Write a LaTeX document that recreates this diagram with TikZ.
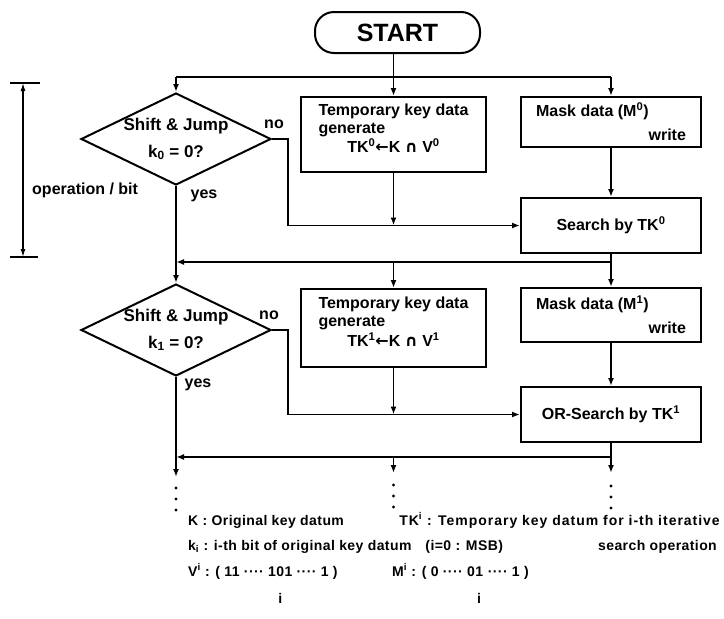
\documentclass[tikz,border=0pt]{standalone}
\usepackage{fontspec}
\setmainfont{Liberation Sans}
\newfontfamily\legfont[LetterSpace=3]{Liberation Sans}
\newfontfamily\legwidefont[LetterSpace=7]{Liberation Sans}
\newfontfamily\symfont{DejaVu Sans}
\newcommand{\larr}{{\symfont\bfseries ←}}
\newcommand{\capop}{{\symfont\bfseries ∩}}
\usetikzlibrary{arrows.meta,shapes.geometric}
\begin{document}
\begin{tikzpicture}[x=1pt,y=-1pt,
  line/.style={line width=1.6pt},
  arr/.style={line width=1.6pt,-{Latex[length=8pt,width=6pt]}},
  box/.style={draw,line width=2pt,inner sep=0pt},
  diam/.style={draw,line width=2pt,diamond,aspect=2,inner sep=0pt,
    minimum width=190pt,minimum height=92pt},
  lab/.style={font=\fontsize{16}{18}\selectfont\bfseries},
  dlab/.style={font=\fontsize{17}{19}\selectfont\bfseries},
  small/.style={font=\fontsize{16}{18}\selectfont\bfseries},
  leg/.style={font=\legfont\fontsize{14}{16}\selectfont\bfseries,inner sep=0pt},
  legwide/.style={font=\legwidefont\fontsize{14}{16}\selectfont\bfseries,inner sep=0pt},
  dot/.style={circle,fill,inner sep=0pt,minimum size=3.4pt}]
\useasboundingbox (0,0) rectangle (724,619);

% ---- start terminal
\node[draw,line width=2pt,rounded corners=19pt,minimum width=165pt,
  minimum height=41pt,font=\fontsize{25}{28}\selectfont\bfseries] (start) at (397.5,32.5) {START};

% ---- first iteration (bit 0)
\node[diam] (d0) at (176,139) {};
\node[dlab,align=center] (d0t) at (176,139) {Shift \& Jump\\[8pt]k\textsubscript{0} = 0?};
\node[box,minimum width=185pt,minimum height=75pt] (t0) at (393.5,134.5) {};
\node[lab] (t0t) at ([yshift=4pt]t0.center) {\begin{tabular}{@{}l@{}}Temporary key data\\generate\\
  \multicolumn{1}{@{}c@{}}{TK\textsuperscript{0}\larr K \capop{} V\textsuperscript{0}}\end{tabular}};
\node[box,lab,align=left,minimum width=180pt,minimum height=50pt] (m0) at (611,122)
  {Mask data (M\textsuperscript{0})\\[6pt]\hphantom{Mask data (M\textsuperscript{0})}write};
\node[box,lab,minimum width=180pt,minimum height=55pt] (s0) at (611,225.5) {Search by TK\textsuperscript{0}};

% ---- second iteration (bit 1)
\node[diam] (d1) at (176,330) {};
\node[dlab,align=center] (d1t) at (176,330) {Shift \& Jump\\[8pt]k\textsubscript{1} = 0?};
\node[box,minimum width=185pt,minimum height=78pt] (t1) at (393.5,328) {};
\node[lab] (t1t) at ([yshift=4pt]t1.center) {\begin{tabular}{@{}l@{}}Temporary key data\\generate\\
  \multicolumn{1}{@{}c@{}}{TK\textsuperscript{1}\larr K \capop{} V\textsuperscript{1}}\end{tabular}};
\node[box,lab,align=left,minimum width=180pt,minimum height=54pt] (m1) at (611,315)
  {Mask data (M\textsuperscript{1})\\[6pt]\hphantom{Mask data (M\textsuperscript{1})}write};
\node[box,lab,minimum width=180pt,minimum height=55pt] (s1) at (611,414.5) {OR-Search by TK\textsuperscript{1}};

% ---- branch labels
\node[small] (no0) at (274,124) {no};
\node[small] (yes0) at (204,196) {yes};
\node[small] (no1) at (269,315) {no};
\node[small] (yes1) at (198,385) {yes};

% ---- distribution buses
\coordinate (bus0) at (393.5,77);
\coordinate (bus1) at (611,262);
\coordinate (bus2) at (611,457);

% start -> first stage
\draw[line] (start.south -| t0.north) -- (bus0);
\draw[line] (bus0 -| d0.north) -- (bus0 -| m0.north);
\draw[arr] (bus0 -| d0.north) -- (d0.north);
\draw[arr] (bus0) -- (t0.north);
\draw[arr] (bus0 -| m0.north) -- (m0.north);

% first stage internal flow
\draw[arr] (d0.east) -- ++(16,0) |- (s0.west);
\draw[arr] (t0.south) -- (t0.south |- s0.west);
\draw[arr] (m0.south) -- (s0.north);

% first stage -> second stage
\draw[line] (s0.south) -- (bus1);
\draw[arr] (bus1) -- (bus1 -| d0.south);
\draw[arr] (d0.south) -- (d1.north);
\draw[arr] (bus1 -| t1.north) -- (t1.north);
\draw[arr] (bus1) -- (m1.north);

% second stage internal flow
\draw[arr] (d1.east) -- ++(16,0) |- (s1.west);
\draw[arr] (t1.south) -- (t1.south |- s1.west);
\draw[arr] (m1.south) -- (s1.north);

% second stage -> further stages
\coordinate (out0) at (176,477);
\coordinate (out1) at (393.5,473);
\coordinate (out2) at (611,473);
\draw[line] (s1.south) -- (bus2);
\draw[arr] (bus2) -- (bus2 -| d1.south);
\draw[arr] (d1.south) -- (out0);
\draw[arr] (bus2 -| out1) -- (out1);
\draw[arr] (bus2) -- (out2);

% continuation dots
\foreach \y [count=\k] in {488,499,510} \node[dot] (ca\k) at (176,\y) {};
\foreach \y [count=\k] in {485,496,507} \node[dot] (cb\k) at (393.5,\y) {};
\foreach \y [count=\k] in {486,497,508} \node[dot] (cc\k) at (611,\y) {};

% ---- dimension: one operation per bit
\coordinate (dimtop) at (23,83);
\coordinate (dimbot) at (23,257);
\draw[line] (10,83) -- (40,83);
\draw[line] (10,257) -- (38,257);
\draw[line width=1.3pt,{Latex[length=8pt,width=5pt]}-{Latex[length=8pt,width=5pt]}] (dimtop) -- (dimbot);
\node[small,anchor=west,inner sep=0pt] (opbit) at (32,190) {operation / bit};

% ---- legend
\node[leg,anchor=base west] (lk) at (188,525) {K : Original key datum};
\node[legwide,anchor=base east] (ltk) at (720,525)
  {TK\textsuperscript{i} : Temporary key datum for i-th iterative};
\node[leg,anchor=base west] (lki) at (188,550) {k\textsubscript{i} : i-th bit of original key datum\quad (i=0 : MSB)};
\node[leg,anchor=base east] (lso) at (717,550) {search operation};
\node[leg,anchor=base west] (va) at (188,576) {V\textsuperscript{i} : ( 11 ···· 1};
\node[leg,anchor=base west] (vz) at (va.base east) {0};
\node[leg,anchor=base west] (vb) at (vz.base east) {1 ···· 1 )};
\node[leg,anchor=base] (vi) at ([yshift=-27pt]vz.base) {i};
\node[leg,anchor=base west] (ma) at (392,576) {M\textsuperscript{i} : ( 0 ···· 0};
\node[leg,anchor=base west] (mo) at (ma.base east) {1};
\node[leg,anchor=base west] (mb) at (mo.base east) {\ ···· 1 )};
\node[leg,anchor=base] (mi) at ([yshift=-27pt]mo.base) {i};
\end{tikzpicture}
\end{document}
